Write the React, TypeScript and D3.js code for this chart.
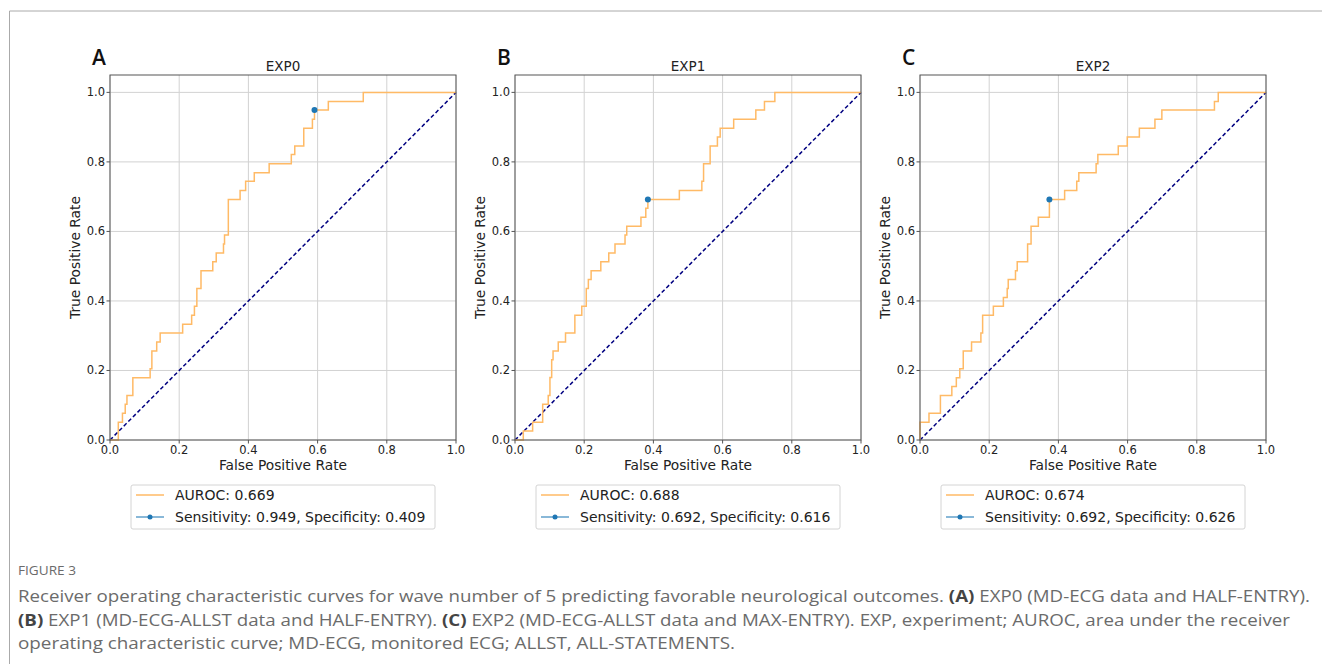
import React from "react";
import * as d3 from "d3";

// ROC corner points (fpr, tpr)
const exp0Fpr = [0, 0.024, 0.036, 0.044, 0.049, 0.066, 0.116, 0.121, 0.135, 0.145, 0.21, 0.236, 0.244, 0.251, 0.263, 0.297, 0.307, 0.328, 0.331, 0.342, 0.376, 0.392, 0.417, 0.46, 0.524, 0.534, 0.56, 0.585, 0.591, 0.631, 0.732, 1.0];
const exp0Tpr = [0, 0.051, 0.077, 0.103, 0.128, 0.179, 0.205, 0.256, 0.282, 0.308, 0.333, 0.359, 0.385, 0.436, 0.487, 0.513, 0.538, 0.564, 0.59, 0.692, 0.718, 0.744, 0.769, 0.795, 0.821, 0.846, 0.897, 0.923, 0.949, 0.974, 1.0, 1.0];

const exp1Fpr = [0, 0.024, 0.051, 0.08, 0.096, 0.101, 0.106, 0.11, 0.125, 0.146, 0.173, 0.193, 0.206, 0.212, 0.22, 0.248, 0.271, 0.289, 0.318, 0.323, 0.364, 0.378, 0.384, 0.475, 0.54, 0.545, 0.564, 0.585, 0.593, 0.632, 0.696, 0.721, 0.751, 1.0];
const exp1Tpr = [0, 0.026, 0.051, 0.103, 0.128, 0.18, 0.231, 0.256, 0.282, 0.308, 0.359, 0.385, 0.436, 0.462, 0.487, 0.513, 0.538, 0.564, 0.59, 0.615, 0.641, 0.667, 0.692, 0.718, 0.744, 0.795, 0.846, 0.872, 0.897, 0.923, 0.949, 0.974, 1.0, 1.0];

const exp2Fpr = [0, 0, 0.026, 0.059, 0.092, 0.105, 0.115, 0.125, 0.149, 0.176, 0.181, 0.212, 0.241, 0.252, 0.255, 0.276, 0.281, 0.311, 0.321, 0.342, 0.374, 0.418, 0.453, 0.459, 0.509, 0.514, 0.573, 0.599, 0.634, 0.679, 0.699, 0.851, 0.862, 1.0];
const exp2Tpr = [0, 0.051, 0.077, 0.128, 0.154, 0.179, 0.205, 0.256, 0.282, 0.308, 0.359, 0.385, 0.41, 0.436, 0.462, 0.487, 0.513, 0.564, 0.615, 0.641, 0.692, 0.718, 0.744, 0.769, 0.795, 0.821, 0.846, 0.872, 0.897, 0.923, 0.949, 0.974, 1.0, 1.0];

const panelLetters = ["A", "B", "C"];
const panelTitles = ["EXP0", "EXP1", "EXP2"];
const aurocValues = ["0.669", "0.688", "0.674"];
const sensitivities = [0.949, 0.692, 0.692];
const specificities = [0.409, 0.616, 0.626];
const tickValues = [0, 0.2, 0.4, 0.6, 0.8, 1.0];

const fprSeries = [exp0Fpr, exp1Fpr, exp2Fpr];
const tprSeries = [exp0Tpr, exp1Tpr, exp2Tpr];

const FONT = "DejaVu Sans, sans-serif";
const ORANGE = "#ffba66";
const NAVY = "#000080";
const BLUE = "#1f77b4";

const plotLefts = [110, 515, 920];
const plotW = 346;
const plotTop = 75;
const plotBottom = 440;

function Panel({ i }: { i: number }) {
  const left = plotLefts[i];
  const x = d3.scaleLinear().domain([0, 1]).range([left, left + plotW]);
  const y = d3.scaleLinear().domain([0, 1.05]).range([plotBottom, plotTop]);
  const pts = fprSeries[i].map((f, k) => [f, tprSeries[i][k]] as [number, number]);
  const line = d3
    .line<[number, number]>()
    .x((d) => x(d[0]))
    .y((d) => y(d[1]))
    .curve(d3.curveStepAfter);
  const cx = (left + left + plotW) / 2;
  const sens = sensitivities[i];
  const spec = specificities[i];
  const legW = 304;
  const legX = cx - legW / 2;
  const legY = 485;

  return (
    <g>
      <text x={left - 18} y={65} fontFamily="Open Sans, sans-serif" fontWeight={600} fontSize={21} fill="#111">
        {panelLetters[i]}
      </text>
      <text x={cx} y={71} textAnchor="middle" fontFamily={FONT} fontSize={13.5} fill="#222">
        {panelTitles[i]}
      </text>
      {tickValues.map((t) => (
        <g key={"g" + t}>
          <line x1={x(t)} x2={x(t)} y1={plotTop} y2={plotBottom} stroke="#d2d2d2" strokeWidth={1} />
          <line x1={left} x2={left + plotW} y1={y(t)} y2={y(t)} stroke="#d2d2d2" strokeWidth={1} />
        </g>
      ))}
      <line x1={x(0)} y1={y(0)} x2={x(1)} y2={y(1)} stroke={NAVY} strokeWidth={1.5} strokeDasharray="4,2.5" />
      <path d={line(pts) || ""} fill="none" stroke={ORANGE} strokeWidth={1.5} />
      <circle cx={x(1 - spec)} cy={y(sens)} r={3} fill={BLUE} />
      <rect x={left} y={plotTop} width={plotW} height={plotBottom - plotTop} fill="none" stroke="#555" strokeWidth={1} />
      {tickValues.map((t) => (
        <g key={"t" + t} fontFamily={FONT} fontSize={11.5} fill="#222">
          <line x1={x(t)} x2={x(t)} y1={plotBottom} y2={plotBottom + 3.5} stroke="#555" />
          <text x={x(t)} y={454} textAnchor="middle">
            {t.toFixed(1)}
          </text>
          <line x1={left - 3.5} x2={left} y1={y(t)} y2={y(t)} stroke="#555" />
          <text x={left - 5} y={y(t) + 4} textAnchor="end">
            {t.toFixed(1)}
          </text>
        </g>
      ))}
      <text x={cx} y={470} textAnchor="middle" fontFamily={FONT} fontSize={13.8} fill="#222">
        False Positive Rate
      </text>
      <text
        transform={`translate(${left - 30},${(plotTop + plotBottom) / 2}) rotate(-90)`}
        textAnchor="middle"
        fontFamily={FONT}
        fontSize={13.8}
        fill="#222"
      >
        True Positive Rate
      </text>
      <rect x={legX} y={legY} width={legW} height={44} rx={2} fill="#fff" stroke="#d4d4d4" strokeWidth={1} />
      <line x1={legX + 5} x2={legX + 33} y1={legY + 10} y2={legY + 10} stroke={ORANGE} strokeWidth={1.5} />
      <text x={legX + 44} y={legY + 15} fontFamily={FONT} fontSize={14} fill="#222">
        AUROC: {aurocValues[i]}
      </text>
      <line x1={legX + 5} x2={legX + 33} y1={legY + 32} y2={legY + 32} stroke="#62a0cb" strokeWidth={1.5} />
      <circle cx={legX + 19} cy={legY + 32} r={2.5} fill={BLUE} />
      <text x={legX + 44} y={legY + 37} fontFamily={FONT} fontSize={14} fill="#222">
        Sensitivity: {sens.toFixed(3)}, Specificity: {spec.toFixed(3)}
      </text>
    </g>
  );
}

const CAP_FONT = "Open Sans, sans-serif";
const CAP_GRAY = "#6b6b6b";

export default function App() {
  return (
    <svg width={1322} height={666} style={{ position: "absolute", left: 0, top: 0, background: "#fff" }}>
      <line x1={9.5} y1={11} x2={1322} y2={11} stroke="#aaa" strokeWidth={1} />
      <line x1={9.5} y1={11} x2={9.5} y2={664} stroke="#aaa" strokeWidth={1} />
      {panelLetters.map((_, i) => (
        <Panel key={i} i={i} />
      ))}
      <text x={18} y={575} fontFamily={CAP_FONT} fontSize={12} fill={CAP_GRAY} textLength={58} lengthAdjust="spacingAndGlyphs">
        FIGURE 3
      </text>
      <text x={18} y={602} fontFamily={CAP_FONT} fontSize={15.5} fill={CAP_GRAY} textLength={1292} lengthAdjust="spacingAndGlyphs">
        Receiver operating characteristic curves for wave number of 5 predicting favorable neurological outcomes.{" "}
        <tspan fontWeight={700} fill="#444">(A)</tspan> EXP0 (MD-ECG data and HALF-ENTRY).
      </text>
      <text x={18} y={626} fontFamily={CAP_FONT} fontSize={15.5} fill={CAP_GRAY} textLength={1272} lengthAdjust="spacingAndGlyphs">
        <tspan fontWeight={700} fill="#444">(B)</tspan> EXP1 (MD-ECG-ALLST data and HALF-ENTRY).{" "}
        <tspan fontWeight={700} fill="#444">(C)</tspan> EXP2 (MD-ECG-ALLST data and MAX-ENTRY). EXP, experiment; AUROC, area under the receiver
      </text>
      <text x={18} y={649} fontFamily={CAP_FONT} fontSize={15.5} fill={CAP_GRAY} textLength={717} lengthAdjust="spacingAndGlyphs">
        operating characteristic curve; MD-ECG, monitored ECG; ALLST, ALL-STATEMENTS.
      </text>
    </svg>
  );
}
